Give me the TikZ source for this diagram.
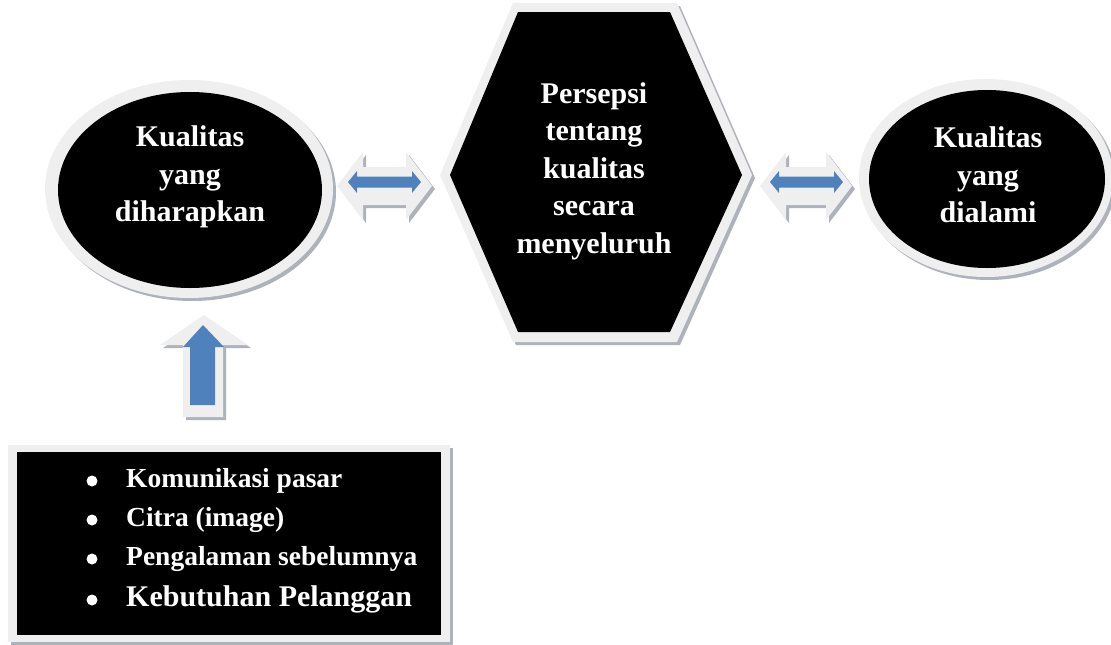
\documentclass[tikz,border=0pt]{standalone}
\usepackage{fontspec}
\usetikzlibrary{shapes.geometric}
\setmainfont{Liberation Serif}
\definecolor{glow}{HTML}{EFEFEF}
\definecolor{shade}{HTML}{AEB2BA}
\definecolor{ablue}{HTML}{4F81BD}
\tikzset{
  glowshape/.style={fill=glow},
  shadeshape/.style={fill=shade},
  blackshape/.style={fill=black},
  bluearrow/.style={fill=ablue},
  bigtxt/.style={text=white, font=\fontsize{30}{37.5}\selectfont\bfseries, align=center, inner sep=0pt},
  listtxt/.style={text=white, anchor=west, inner sep=0pt, font=\fontsize{27.5}{30}\selectfont\bfseries},
  bulletdot/.style={circle, fill=white, inner sep=0pt, minimum size=11}
}
\begin{document}
\begin{tikzpicture}[x=1pt,y=-1pt]
\useasboundingbox (0,0) rectangle (1111,645);
% ---------- left ellipse
\fill[shadeshape] (192,192) ellipse [x radius=144, y radius=109];
\fill[glowshape] (189,189) ellipse [x radius=144, y radius=109];
\node[ellipse, minimum width=264, minimum height=196, blackshape, inner sep=0pt] (expected) at (190,190) {};
\node[bigtxt] (expectedtxt) at (190,177) {Kualitas\\yang\\diharapkan};
% ---------- right ellipse
\fill[shadeshape] (989,181) ellipse [x radius=127, y radius=99];
\fill[glowshape] (986,178) ellipse [x radius=127, y radius=99];
\node[ellipse, minimum width=236, minimum height=178, blackshape, inner sep=0pt] (experienced) at (987,179) {};
\node[bigtxt] (experiencedtxt) at (988,175) {Kualitas\\yang\\dialami};
% ---------- hexagon
\fill[shadeshape] (516,6) -- (680,6) -- (755,178) -- (680,345) -- (516,345) -- (443,178) -- cycle;
\fill[glowshape] (513,3) -- (677,3) -- (752,175) -- (677,342) -- (513,342) -- (440,175) -- cycle;
\coordinate (h1) at (518,12);
\coordinate (h2) at (670,12);
\coordinate (h3) at (742,175);
\coordinate (h4) at (670,332);
\coordinate (h5) at (518,332);
\coordinate (h6) at (450,175);
\fill[blackshape] (h1) -- (h2) -- (h3) -- (h4) -- (h5) -- (h6) -- cycle;
\node[bigtxt] (overalltxt) at (594,171) {Persepsi\\tentang\\kualitas\\secara\\menyeluruh};
% ---------- left double arrow
\fill[shadeshape] (340,189) -- (366,155) -- (366,170) -- (409,170) -- (409,155) -- (435,189) -- (409,223) -- (409,208) -- (366,208) -- (366,223) -- cycle;
\fill[glowshape] (337,186) -- (363,152) -- (363,167) -- (406,167) -- (406,152) -- (432,186) -- (406,220) -- (406,205) -- (363,205) -- (363,220) -- cycle;
\fill[bluearrow] (348,182) -- (357,171) -- (357,176.5) -- (412,176.5) -- (412,171) -- (421,182) -- (412,193) -- (412,187.5) -- (357,187.5) -- (357,193) -- cycle;
% ---------- right double arrow
\fill[shadeshape] (763,189) -- (789,155) -- (789,170) -- (829,170) -- (829,155) -- (855,189) -- (829,223) -- (829,208) -- (789,208) -- (789,223) -- cycle;
\fill[glowshape] (760,186) -- (786,152) -- (786,167) -- (826,167) -- (826,152) -- (852,186) -- (826,220) -- (826,205) -- (786,205) -- (786,220) -- cycle;
\fill[bluearrow] (770,182) -- (779,171) -- (779,176.5) -- (834,176.5) -- (834,171) -- (843,182) -- (834,193) -- (834,187.5) -- (779,187.5) -- (779,193) -- cycle;
% ---------- up arrow
\fill[shadeshape] (207,318) -- (251,348) -- (226,348) -- (226,420) -- (186,420) -- (186,348) -- (163,348) -- cycle;
\fill[glowshape] (204,315) -- (248,345) -- (223,345) -- (223,417) -- (183,417) -- (183,345) -- (160,345) -- cycle;
\fill[bluearrow] (203,325) -- (224,347) -- (215,347) -- (215,405) -- (190,405) -- (190,347) -- (183,347) -- cycle;
% ---------- list box
\fill[shadeshape] (11,448) rectangle (453,645);
\fill[glowshape] (8,445) rectangle (450,642);
\node[rectangle, blackshape, minimum width=424, minimum height=183, inner sep=0pt, anchor=north west] (factors) at (17,452) {};
\node[bulletdot] (b1) at (92,481) {};
\node[bulletdot] (b2) at (92,520) {};
\node[bulletdot] (b3) at (92,559) {};
\node[bulletdot] (b4) at (92,600) {};
\node[listtxt] (l1) at (126,481) {Komunikasi pasar};
\node[listtxt] (l2) at (126,520) {Citra (image)};
\node[listtxt] (l3) at (126,559) {Pengalaman sebelumnya};
\node[listtxt, font=\fontsize{30}{32}\selectfont\bfseries] (l4) at (126,599) {Kebutuhan Pelanggan};
\end{tikzpicture}
\end{document}
